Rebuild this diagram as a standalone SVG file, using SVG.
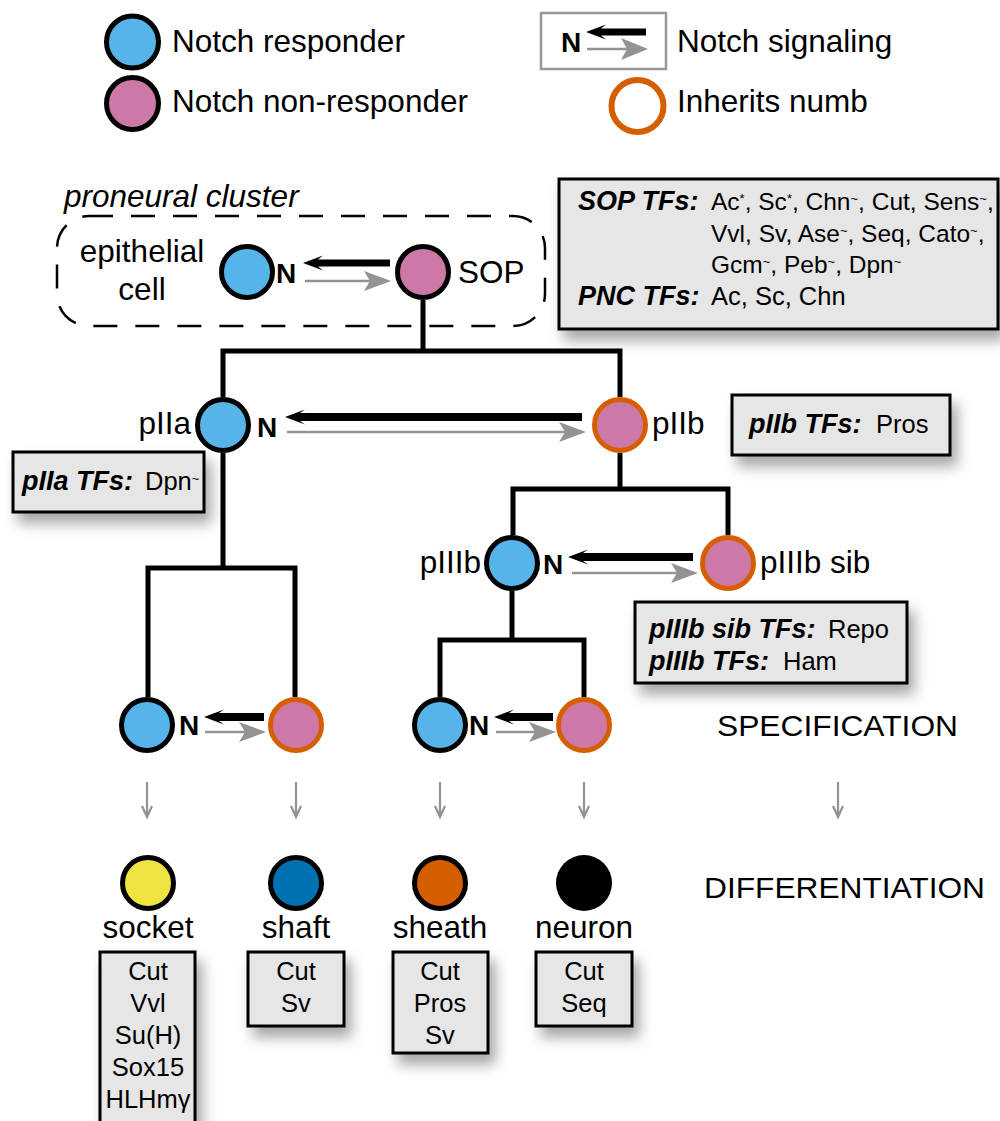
<svg xmlns="http://www.w3.org/2000/svg" width="1000" height="1121" viewBox="0 0 1000 1121">
  <defs>
    <filter id="shadow" x="-20%" y="-20%" width="150%" height="170%">
      <feDropShadow dx="6" dy="10" stdDeviation="7" flood-color="#000" flood-opacity="0.35"/>
    </filter>
    <style>
      text { font-family: "Liberation Sans", Arial, Helvetica, sans-serif; fill: #000; }
      .lbl { font-size: 31.5px; }
      .n { font-size: 28px; font-weight: bold; }
      .tf { font-size: 25.5px; }
      .tfl { font-size: 24.5px; }
      .tfh { font-size: 27px; font-weight: bold; font-style: italic; }
      .sup { font-size: 13px; }
      .cellname { font-size: 31.5px; text-anchor: middle; }
      .mk { font-size: 25.5px; text-anchor: middle; }
      .stage { font-size: 29px; }
      .box { fill: #e6e6e6; stroke: #000; stroke-width: 3; }
      .resp { fill: #56b4e9; stroke: #000; stroke-width: 5; }
      .nonresp { fill: #cc79a7; stroke: #000; stroke-width: 5; }
      .numb { fill: #cc79a7; stroke: #d55e00; stroke-width: 5; }
      .tree { fill: none; stroke: #000; stroke-width: 5; stroke-linejoin: miter; stroke-linecap: butt; }
      .sigblack { fill: #000; }
      .siggray { fill: #939393; }
      .grayline { stroke: #939393; stroke-width: 2.5; }
      .down { fill: none; stroke: #939393; stroke-width: 2.2; }
    </style>
  </defs>

  <rect width="1000" height="1121" fill="#fff"/>

  <!-- Legend -->
  <g id="legend">
    <g id="legend-responder">
      <circle cx="132.5" cy="42" r="26" class="resp" stroke-width="5.5"/>
      <text x="172" y="52" class="lbl">Notch responder</text>
    </g>
    <g id="legend-nonresponder">
      <circle cx="132.5" cy="103.5" r="26" class="nonresp" stroke-width="5.5"/>
      <text x="172" y="112" class="lbl">Notch non-responder</text>
    </g>
    <g id="legend-signaling">
      <rect x="541" y="13" width="125" height="56" fill="#fff" stroke="#999" stroke-width="2.5"/>
      <text x="561" y="52" class="n" font-size="29">N</text>
      <path class="sigblack" d="M586,32 L606,24.5 L601,28.5 L646,28.5 L646,35.5 L601,35.5 L606,39.5 Z"/>
      <line x1="587" y1="49" x2="630" y2="49" class="grayline"/>
      <path class="siggray" d="M648,49 L621,38 L627,49 L621,60 Z"/>
      <text x="677" y="52" class="lbl">Notch signaling</text>
    </g>
    <g id="legend-numb">
      <circle cx="637.5" cy="106" r="26" fill="#fff" stroke="#d55e00" stroke-width="6"/>
      <text x="677" y="112" class="lbl">Inherits numb</text>
    </g>
  </g>

  <!-- Proneural cluster outline -->
  <g id="proneural-cluster">
    <text x="64" y="207" class="lbl" font-size="32.5" font-style="italic">proneural cluster</text>
    <rect x="57" y="216" width="488" height="110" rx="32" ry="32" fill="none" stroke="#000" stroke-width="2.5" stroke-dasharray="24 18"/>
  </g>

  <!-- Connectors -->
  <g id="connectors">
    <!-- lineage tree -->
    <path class="tree" d="M423,300 V351 M223,397 V351 H620 V397"/>
    <path class="tree" d="M223,453 V568 M148,697 V568 H295 V697"/>
    <path class="tree" d="M620,453 V489 M513,535 V489 H728 V535"/>
    <path class="tree" d="M512,591 V640 M440,697 V640 H584 V697"/>

    <!-- epithelial cell / SOP -->
    <path class="sigblack" d="M303,263 L323,255.5 L318,259.5 L390,259.5 L390,266.5 L318,266.5 L323,270.5 Z"/>
    <line x1="305" y1="281" x2="372" y2="281" class="grayline"/>
    <path class="siggray" d="M391,281 L364,271 L370,281 L364,291 Z"/>

    <!-- pIIa / pIIb -->
    <path class="sigblack" d="M285,417 L305,409.5 L300,413 L582,413 L582,421 L300,421 L305,424.5 Z"/>
    <line x1="287" y1="432" x2="566" y2="432" class="grayline"/>
    <path class="siggray" d="M586,432 L559,422 L565,432 L559,442 Z"/>

    <!-- pIIIb / pIIIb sib -->
    <path class="sigblack" d="M568,557 L588,549.5 L583,553 L693,553 L693,561 L583,561 L588,564.5 Z"/>
    <line x1="572" y1="573" x2="678" y2="573" class="grayline"/>
    <path class="siggray" d="M698,573 L671,563 L677,573 L671,583 Z"/>

    <!-- socket / shaft precursors -->
    <path class="sigblack" d="M204,717 L224,709.5 L219,713 L264,713 L264,721 L219,721 L224,724.5 Z"/>
    <line x1="205" y1="732" x2="247" y2="732" class="grayline"/>
    <path class="siggray" d="M266,732 L239,722 L245,732 L239,742 Z"/>

    <!-- sheath / neuron precursors -->
    <path class="sigblack" d="M494,717 L514,709.5 L509,713 L553,713 L553,721 L509,721 L514,724.5 Z"/>
    <line x1="496" y1="732" x2="537" y2="732" class="grayline"/>
    <path class="siggray" d="M556,732 L529,722 L535,732 L529,742 Z"/>

    <!-- specification to differentiation -->
    <g class="down">
      <path d="M147,782 V816 M142,806 L147,817 L152,806"/>
      <path d="M296,782 V816 M291,806 L296,817 L301,806"/>
      <path d="M440,782 V816 M435,806 L440,817 L445,806"/>
      <path d="M584,782 V816 M579,806 L584,817 L589,806"/>
      <path d="M838,782 V816 M833,806 L838,817 L843,806"/>
    </g>
  </g>

  <!-- Cells of the proneural cluster -->
  <g id="epithelial-cell">
    <text x="142" y="262" class="lbl" font-size="32" text-anchor="middle">epithelial</text>
    <text x="142" y="300" class="lbl" font-size="32" text-anchor="middle">cell</text>
    <circle cx="247" cy="272" r="25.5" class="resp"/>
    <text x="276" y="283" class="n">N</text>
  </g>
  <g id="sop">
    <circle cx="423" cy="272" r="25.5" class="nonresp"/>
    <text x="458" y="283" class="lbl">SOP</text>
  </g>

  <g id="sop-tfs">
    <rect x="559" y="179" width="439" height="150" class="box" filter="url(#shadow)"/>
    <text x="578" y="210" class="tfh">SOP TFs:</text>
    <text x="711" y="210" class="tfl">Ac<tspan class="sup" baseline-shift="super">*</tspan>, Sc<tspan class="sup" baseline-shift="super">*</tspan>, Chn<tspan class="sup" baseline-shift="super">~</tspan>, Cut, Sens<tspan class="sup" baseline-shift="super">~</tspan>,</text>
    <text x="711" y="242" class="tfl">Vvl, Sv, Ase<tspan class="sup" baseline-shift="super">~</tspan>, Seq, Cato<tspan class="sup" baseline-shift="super">~</tspan>,</text>
    <text x="711" y="273" class="tfl">Gcm<tspan class="sup" baseline-shift="super">~</tspan>, Peb<tspan class="sup" baseline-shift="super">~</tspan>, Dpn<tspan class="sup" baseline-shift="super">~</tspan></text>
    <text x="578" y="305" class="tfh">PNC TFs:</text>
    <text x="711" y="305" class="tf">Ac, Sc, Chn</text>
  </g>

  <!-- Secondary precursors -->
  <g id="pIIa">
    <circle cx="223" cy="425" r="25.5" class="resp"/>
    <text x="191" y="434" class="lbl" text-anchor="end">pIIa</text>
    <text x="257" y="437" class="n">N</text>
  </g>
  <g id="pIIa-tfs">
    <rect x="13" y="452" width="191" height="60" class="box" filter="url(#shadow)"/>
    <text x="22" y="490" class="tfh">pIIa TFs:</text>
    <text x="145" y="490" class="tf">Dpn<tspan class="sup" baseline-shift="super">~</tspan></text>
  </g>
  <g id="pIIb">
    <circle cx="620" cy="425" r="25.5" class="numb"/>
    <text x="652" y="434" class="lbl">pIIb</text>
  </g>
  <g id="pIIb-tfs">
    <rect x="732" y="395" width="218" height="60" class="box" filter="url(#shadow)"/>
    <text x="749" y="433" class="tfh">pIIb TFs:</text>
    <text x="876" y="433" class="tf">Pros</text>
  </g>

  <!-- Tertiary precursors -->
  <g id="pIIIb">
    <circle cx="512" cy="563" r="25.5" class="resp"/>
    <text x="481" y="573" class="lbl" text-anchor="end">pIIIb</text>
    <text x="543" y="574" class="n">N</text>
  </g>
  <g id="pIIIb-sib">
    <circle cx="728" cy="563" r="25.5" class="numb"/>
    <text x="760" y="573" class="lbl">pIIIb sib</text>
  </g>
  <g id="pIIIb-tfs">
    <rect x="635" y="602" width="272" height="81" class="box" filter="url(#shadow)"/>
    <text x="649" y="638" class="tfh">pIIIb sib TFs:</text>
    <text x="828" y="638" class="tf">Repo</text>
    <text x="649" y="670" class="tfh">pIIIb TFs:</text>
    <text x="783" y="670" class="tf">Ham</text>
  </g>

  <!-- Terminal precursors -->
  <g id="pIIa-daughter-1">
    <circle cx="147" cy="725" r="25.5" class="resp"/>
    <text x="179" y="735" class="n">N</text>
  </g>
  <g id="pIIa-daughter-2">
    <circle cx="296" cy="725" r="25.5" class="numb"/>
  </g>
  <g id="pIIIb-daughter-1">
    <circle cx="440" cy="725" r="25.5" class="resp"/>
    <text x="469" y="735" class="n">N</text>
  </g>
  <g id="pIIIb-daughter-2">
    <circle cx="584" cy="725" r="25.5" class="numb"/>
  </g>

  <g id="stage-labels">
    <text x="717" y="736" class="stage" textLength="241" lengthAdjust="spacingAndGlyphs">SPECIFICATION</text>
    <text x="704" y="898" class="stage" textLength="281" lengthAdjust="spacingAndGlyphs">DIFFERENTIATION</text>
  </g>

  <!-- Differentiated cells -->
  <g id="socket">
    <circle cx="148" cy="883" r="25.5" fill="#f0e442" stroke="#000" stroke-width="5"/>
    <text x="148" y="938" class="cellname">socket</text>
    <rect x="100" y="952" width="95" height="175" class="box" filter="url(#shadow)"/>
    <text x="148" y="980" class="mk">Cut</text>
    <text x="148" y="1012" class="mk">Vvl</text>
    <text x="148" y="1044" class="mk">Su(H)</text>
    <text x="148" y="1076" class="mk">Sox15</text>
    <text x="148" y="1108" class="mk">HLHmγ</text>
  </g>
  <g id="shaft">
    <circle cx="296" cy="883" r="25.5" fill="#0072b2" stroke="#000" stroke-width="5"/>
    <text x="296" y="938" class="cellname">shaft</text>
    <rect x="248" y="952" width="96" height="74" class="box" filter="url(#shadow)"/>
    <text x="296" y="980" class="mk">Cut</text>
    <text x="296" y="1012" class="mk">Sv</text>
  </g>
  <g id="sheath">
    <circle cx="440" cy="883" r="25.5" fill="#d55e00" stroke="#000" stroke-width="5"/>
    <text x="440" y="938" class="cellname">sheath</text>
    <rect x="393" y="952" width="95" height="101" class="box" filter="url(#shadow)"/>
    <text x="440" y="980" class="mk">Cut</text>
    <text x="440" y="1012" class="mk">Pros</text>
    <text x="440" y="1044" class="mk">Sv</text>
  </g>
  <g id="neuron">
    <circle cx="584" cy="883" r="28" fill="#000"/>
    <text x="584" y="938" class="cellname">neuron</text>
    <rect x="536" y="952" width="96" height="74" class="box" filter="url(#shadow)"/>
    <text x="584" y="980" class="mk">Cut</text>
    <text x="584" y="1012" class="mk">Seq</text>
  </g>
</svg>
